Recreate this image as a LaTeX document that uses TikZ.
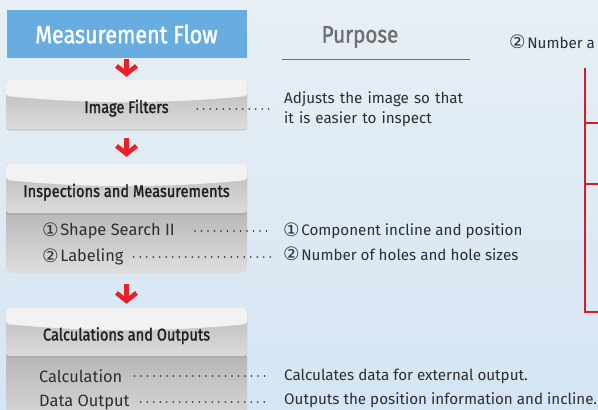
\documentclass[tikz,border=0pt]{standalone}
\usepackage{fontspec}
\setmainfont{Fira Sans}
\newfontfamily\headfont[FakeStretch=0.86,FakeBold=1.4]{Fira Sans}
\newfontfamily\symfont{DejaVu Sans}
\newcommand{\cnum}[1]{{\symfont\fontsize{18.5pt}{17pt}\selectfont\raisebox{-0.5pt}{#1}}\hspace{1.5pt}}
\usepackage{tikz}
\usetikzlibrary{calc,positioning,arrows.meta,shadows}

\definecolor{flowblue}{HTML}{68ADE0}
\definecolor{flowred}{HTML}{E8202A}
\definecolor{bgtop}{HTML}{E8EFF5}
\definecolor{bgbot}{HTML}{D4E5F3}
\definecolor{glosscol}{HTML}{F2F2F2}
\definecolor{txtgray}{HTML}{2E2E2E}
\definecolor{purposegray}{HTML}{6E6E6E}

\tikzset{
  titlebox/.style={fill=flowblue, text=white, minimum width=240pt, minimum height=48pt,
    font=\headfont\fontsize{25pt}{25pt}\selectfont},
  hdrbox/.style={rounded corners=3pt, top color=black!27, bottom color=black!14,
    minimum width=241pt, minimum height=49pt, text=black!88,
    text height=17pt, text depth=0pt,
    font=\headfont\fontsize{17pt}{17pt}\selectfont,
    drop shadow={shadow xshift=0pt, shadow yshift=-1.5pt, opacity=0.3},
    path picture={
      \fill[glosscol] (path picture bounding box.north west) -- (path picture bounding box.north east)
        -- ([yshift=-16pt]path picture bounding box.north east)
        .. controls ([xshift=-80pt,yshift=-24pt]path picture bounding box.north east)
        and ([xshift=80pt,yshift=-24pt]path picture bounding box.north west)
        .. ([yshift=-16pt]path picture bounding box.north west) -- cycle;}},
  bodybox/.style={rounded corners=6pt, top color=black!29, bottom color=black!13,
    minimum width=241pt},
  itemtxt/.style={anchor=west, inner sep=0pt, text=txtgray, font=\fontsize{16.4pt}{16pt}\selectfont},
  purposetxt/.style={anchor=west, inner sep=0pt, text=txtgray, font=\fontsize{15.2pt}{20pt}\selectfont},
  flowarrow/.style={draw=flowred, line width=4.5pt,
    -{Straight Barb[length=8pt,width=20pt]}},
  dotline/.style={draw=black!85, line width=1.8pt, line cap=round, dash pattern=on 0pt off 6.5pt},
  bracket/.style={draw=flowred!90!black, line width=1.3pt}
}

\begin{document}
\begin{tikzpicture}[x=1pt,y=-1pt]
  \clip (0,0) rectangle (598,410);
  \shade[top color=bgtop, bottom color=bgbot] (0,0) rectangle (598,410);

  % left column
  \node[titlebox] (title) at (126.5,34) {Measurement Flow};
  \node[bodybox, minimum height=66pt] (insbody) at (126.5,240) {};
  \node[bodybox, minimum height=80pt] (calcbody) at (126.5,392) {};
  \node[hdrbox] (filters) at (126.5,104.5) {Image Filters};
  \node[hdrbox] (inshdr) at (126.5,188.5) {Inspections and Measurements};
  \node[hdrbox, minimum height=48pt] (calchdr) at (126.5,332) {Calculations and Outputs};

  \draw[flowarrow, shorten <=1pt, shorten >=3pt] (title) -- (filters);
  \draw[flowarrow, shorten <=9pt, shorten >=7pt] (filters) -- (inshdr);
  \draw[flowarrow, shorten <=11pt, shorten >=4pt] (insbody) -- (calchdr);

  \node[itemtxt] (shape) at (42,231) {\cnum{①}Shape Search II};
  \node[itemtxt] (label) at (42,257) {\cnum{②}Labeling};
  \node[itemtxt] (calc) at (39,376) {Calculation};
  \node[itemtxt] (dataout) at (39,402) {Data Output};

  % purpose column
  \node[text=purposegray, font=\headfont\fontsize{24pt}{24pt}\selectfont] (purpose) at (360,37) {Purpose};
  \draw[purposegray, line width=1pt] (282,59) -- (470,59);
  \node[purposetxt, text width=200pt, align=left] (adjust) at (284,109)
    {Adjusts the image so that\\it is easier to inspect};
  \node[purposetxt] (comp) at (283,231) {\cnum{①}Component incline and position};
  \node[purposetxt] (holes) at (283,254) {\cnum{②}Number of holes and hole sizes};
  \node[purposetxt] (calcdata) at (284,376) {Calculates data for external output.};
  \node[purposetxt] (outdata) at (284,400) {Outputs the position information and incline.};

  \draw[dotline, shorten >=11pt] ([xshift=-50pt]filters.east |- adjust.west) -- (adjust.west);
  \draw[dotline, shorten <=20pt, shorten >=15pt] (shape.east) -- (shape.east -| comp.west);
  \draw[dotline, shorten <=10pt, shorten >=11pt] (label.east) -- (label.east -| holes.west);
  \draw[dotline, shorten <=12pt, shorten >=14pt] (calc.east) -- (calc.east -| calcdata.west);
  \draw[dotline, shorten <=11pt, shorten >=14pt] (dataout.east) -- (dataout.east -| outdata.west);

  % right column
  \node[purposetxt] (numtop) at (509,42) {\cnum{②}Number a};
  \draw[bracket] (585,68) -- (585,312) -- (598,312);
  \draw[bracket] (585,123) -- (598,123);
  \draw[bracket] (585,184) -- (598,184);
\end{tikzpicture}
\end{document}
